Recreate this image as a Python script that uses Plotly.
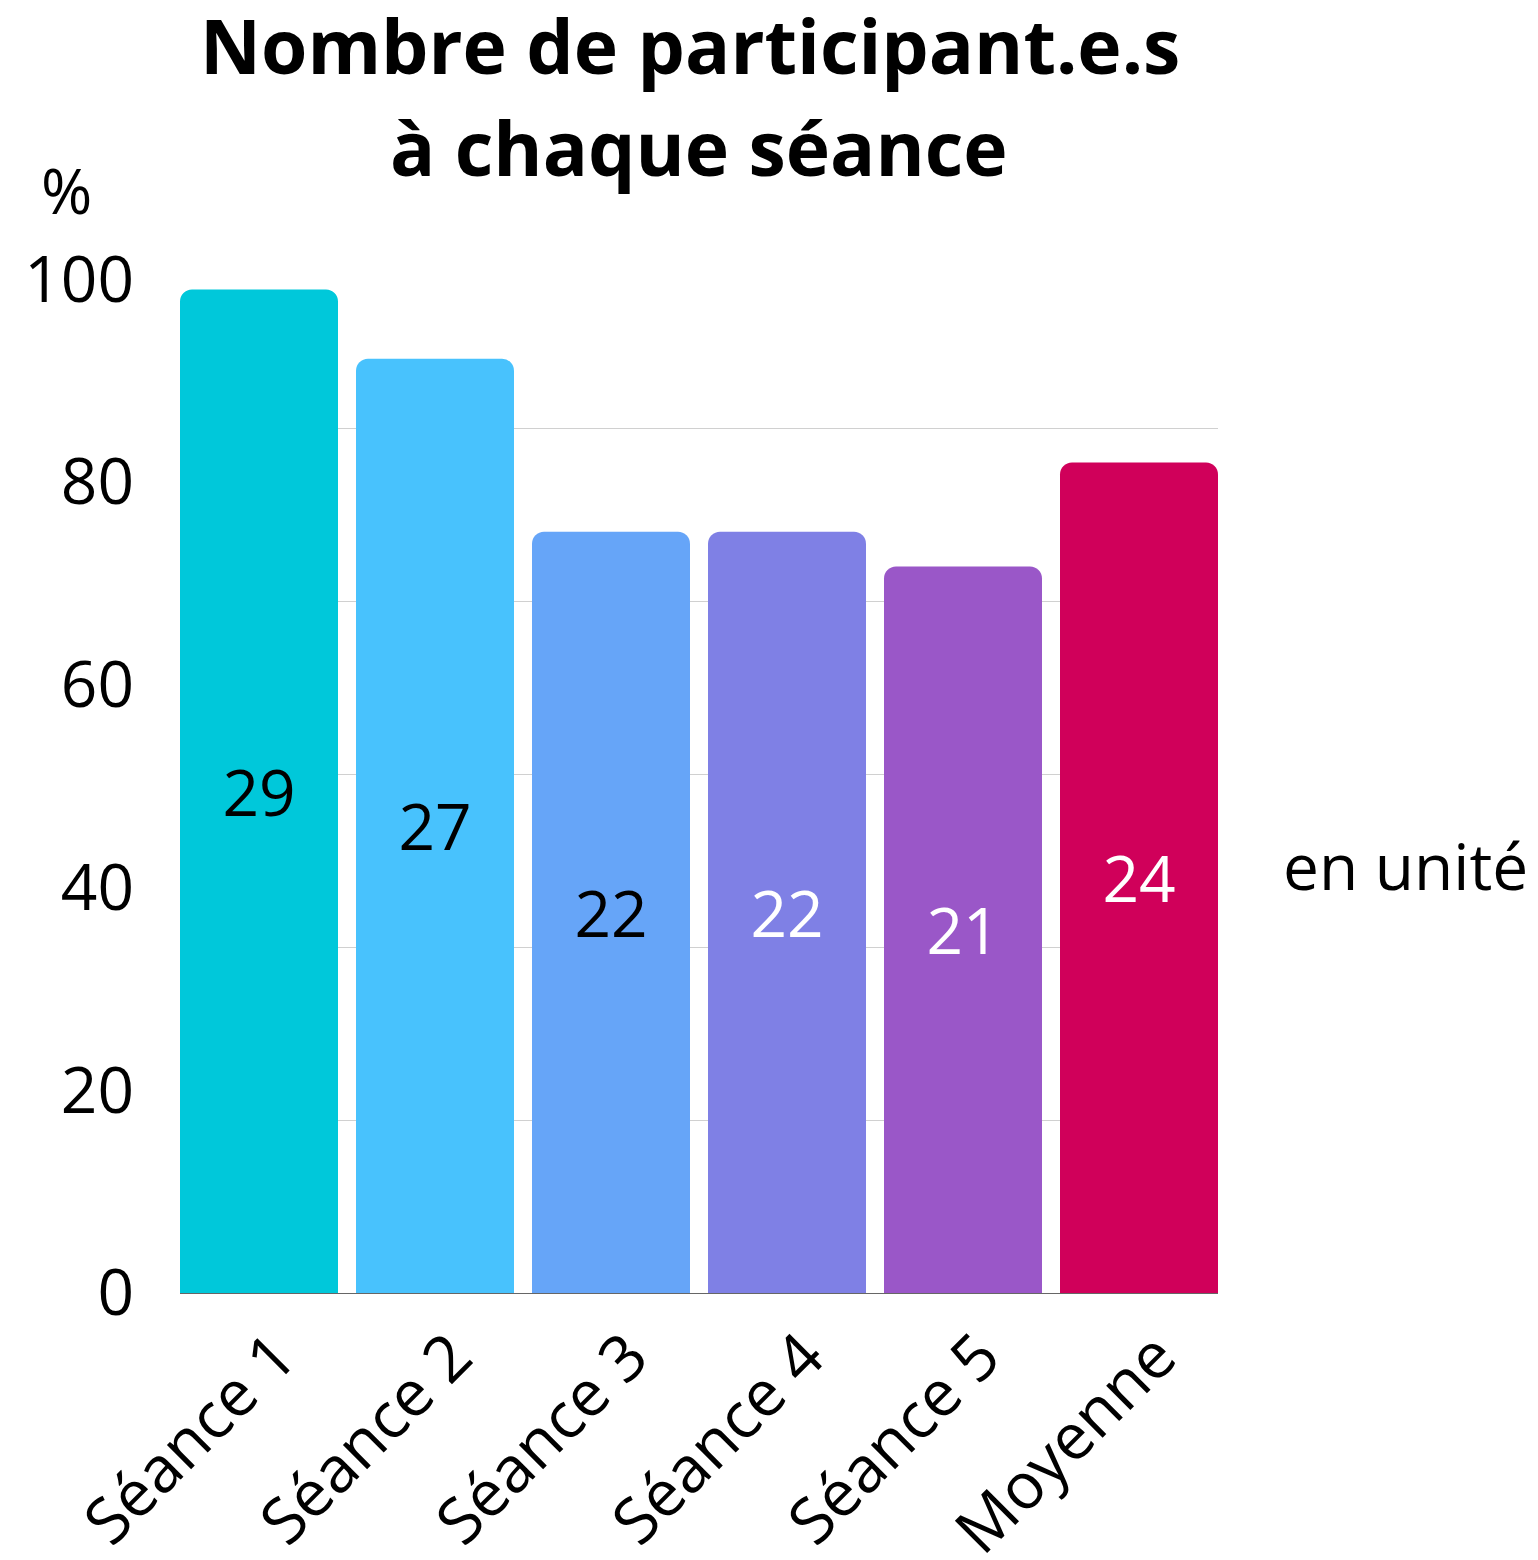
import plotly.graph_objects as go

categories = ["Séance 1", "Séance 2", "Séance 3", "Séance 4", "Séance 5", "Moyenne"]
participants = [29, 27, 22, 22, 21, 24]
bar_colors = ["#00C8DA", "#48C2FD", "#66A5F8", "#7F80E5", "#9A57C8", "#D0005A"]
label_colors = ["#000000", "#000000", "#000000", "#FFFFFF", "#FFFFFF", "#FFFFFF"]
pct_ticks = [0, 20, 40, 60, 80, 100]
unit_max = 30
pct_max = 102.4  # top of the % axis

FONT = "Open Sans"
gap = 0.1023

# plot area (page pixels): left 180, right 1218, top 255, bottom 1293
PL, PB, PW, PH = 180, 1293, 1038, 1038


def px(x):
    return (x - PL) / PW


def py(y):
    return (PB - y) / PH


fig = go.Figure()
fig.add_trace(go.Bar(
    x=categories, y=participants,
    marker=dict(color=bar_colors, line=dict(width=0)),
    text=[str(v) for v in participants],
    textposition="inside", insidetextanchor="middle",
    textfont=dict(family=FONT, size=64, color=label_colors),
    yaxis="y", showlegend=False, hoverinfo="skip",
))
# invisible trace to carry the left (%) axis
fig.add_trace(go.Scatter(
    x=[categories[0]], y=[0],
    mode="markers", marker=dict(opacity=0), yaxis="y2",
    showlegend=False, hoverinfo="skip",
))

fig.update_layout(
    width=1530, height=1552,
    paper_bgcolor="white", plot_bgcolor="white",
    margin=dict(l=172, r=320, t=247, b=267, pad=0),
    bargap=gap, barcornerradius=12,
    font=dict(family=FONT, color="#000000"),
    xaxis=dict(
        type="category", range=[-0.5 + gap / 2, 5.5 - gap / 2],
        tickangle=-45, tickfont=dict(family=FONT, size=64, color="#000000"),
        ticklabelshift=18, ticklabelstandoff=12, automargin=False,
        showgrid=False, showline=False, ticks="",
    ),
    yaxis=dict(
        range=[0, unit_max], dtick=5, side="right", automargin=False,
        showticklabels=False, showgrid=True, gridcolor="#D0D0D0", gridwidth=1,
        zeroline=True, zerolinecolor="#666666", zerolinewidth=1,
        ticks="",
    ),
    yaxis2=dict(
        range=[0, pct_max], overlaying="y", side="left", anchor="x",
        tickvals=pct_ticks, ticks="", ticklabelstandoff=45, automargin=False,
        tickfont=dict(family=FONT, size=64, color="#000000"),
        showgrid=False, zeroline=False,
    ),
    annotations=[
        dict(text="<b>Nombre de participant.e.s</b>", x=px(690), y=py(45),
             xref="paper", yref="paper", xanchor="center", yanchor="middle",
             showarrow=False, font=dict(family=FONT, size=75, color="#000000")),
        dict(text="<b>à chaque séance</b>", x=px(699), y=py(147),
             xref="paper", yref="paper", xanchor="center", yanchor="middle",
             showarrow=False, font=dict(family=FONT, size=75, color="#000000")),
        dict(text="%", x=px(66), y=py(190), xref="paper", yref="paper",
             xanchor="center", yanchor="middle", showarrow=False,
             font=dict(family=FONT, size=62, color="#000000")),
        dict(text="en unité", x=px(1281), y=py(865),
             xref="paper", yref="paper", xanchor="left", yanchor="middle",
             showarrow=False, font=dict(family=FONT, size=64, color="#000000")),
    ],
)

fig.write_html("out.html")
